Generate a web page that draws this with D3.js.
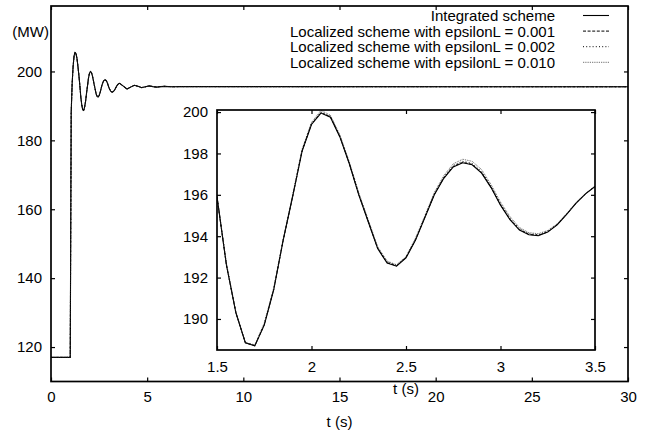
<!DOCTYPE html>
<html>
<head>
<meta charset="utf-8">
<script src="https://cdn.jsdelivr.net/npm/d3@7"></script>
<style>
  body { margin: 0; background: #fff; }
  text { font-family: "Liberation Sans", Arial, Helvetica, sans-serif; font-size: 15px; fill: #000; }
</style>
</head>
<body>
<div id="output"></div>
<script>
// time samples (s)
var tEarly = [0, 1.0, 1.05, 1.1, 1.15, 1.2, 1.25, 1.3, 1.35, 1.4, 1.45];
var tWin = [1.5, 1.55, 1.6, 1.65, 1.7, 1.75, 1.8, 1.85, 1.9, 1.95, 2.0, 2.05, 2.1, 2.15, 2.2, 2.25, 2.3, 2.35, 2.4, 2.45,
  2.5, 2.55, 2.6, 2.65, 2.7, 2.75, 2.8, 2.85, 2.9, 2.95, 3.0, 3.05, 3.1, 3.15, 3.2, 3.25, 3.3, 3.35, 3.4, 3.45, 3.5];
var tLate = [3.57, 3.76, 3.95, 4.14, 4.33, 4.52, 4.72, 4.91, 5.1, 5.3, 5.5, 5.7, 5.9, 6.3, 6.7, 30];

// power (MW)
var vEarly = [117, 117, 188, 196.5, 201.5, 204.5, 205.5, 205.2, 203.8, 201.5, 198.9];
var vLate = [196.55, 195.75, 194.9, 195.45, 196.0, 195.7, 195.3, 195.55, 195.8, 195.6, 195.45, 195.6, 195.68, 195.55, 195.6, 195.55];

var integratedWin = [195.9, 192.6, 190.3, 188.85, 188.7, 189.7, 191.4, 193.8, 195.9, 198.1, 199.4, 199.95, 199.75, 198.8, 197.5, 196.0, 194.7, 193.4, 192.7, 192.55,
  192.95, 193.8, 194.9, 196.0, 196.8, 197.35, 197.55, 197.45, 197.05, 196.35, 195.5, 194.8, 194.3, 194.07, 194.02, 194.2, 194.55, 195.05, 195.6, 196.05, 196.4];
var eps001Win = [195.9, 192.6, 190.3, 188.85, 188.7, 189.72, 191.42, 193.8, 195.92, 198.12, 199.42, 199.97, 199.77, 198.82, 197.52, 196.02, 194.72, 193.42, 192.72, 192.57,
  192.97, 193.82, 194.92, 196.02, 196.82, 197.37, 197.57, 197.47, 197.07, 196.37, 195.52, 194.82, 194.32, 194.09, 194.04, 194.21, 194.56, 195.06, 195.6, 196.05, 196.4];
var eps002Win = [195.92, 192.62, 190.32, 188.86, 188.72, 189.74, 191.44, 193.82, 195.94, 198.14, 199.45, 200.0, 199.8, 198.85, 197.55, 196.05, 194.75, 193.45, 192.75, 192.59,
  192.99, 193.85, 194.95, 196.05, 196.86, 197.42, 197.62, 197.52, 197.12, 196.42, 195.57, 194.87, 194.36, 194.12, 194.07, 194.24, 194.58, 195.08, 195.62, 196.06, 196.41];
var eps010Win = [195.95, 192.7, 190.35, 188.85, 188.75, 189.8, 191.5, 193.85, 196.0, 198.2, 199.5, 200.08, 199.85, 198.9, 197.6, 196.1, 194.8, 193.5, 192.8, 192.62,
  193.02, 193.9, 195.0, 196.12, 196.93, 197.5, 197.72, 197.62, 197.22, 196.5, 195.65, 194.95, 194.42, 194.17, 194.12, 194.28, 194.6, 195.1, 195.63, 196.07, 196.42];

var seriesNames = ['Integrated scheme', 'Localized scheme with epsilonL = 0.001',
  'Localized scheme with epsilonL = 0.002', 'Localized scheme with epsilonL = 0.010'];
var seriesWin = [integratedWin, eps001Win, eps002Win, eps010Win];
var seriesDash = [null, '3,1.6', '1,2.2', '0.8,1'];
var seriesWidth = [1.1, 1, 1, 0.8];

var mainXTicks = [0, 5, 10, 15, 20, 25, 30];
var mainYTicks = [120, 140, 160, 180, 200];
var insetXTicks = [1.5, 2, 2.5, 3, 3.5];
var insetYTicks = [190, 192, 194, 196, 198, 200];

var svg = d3.select('#output').append('svg')
  .attr('width', 654)
  .attr('height', 434);

svg.append('rect').attr('width', 654).attr('height', 434).attr('fill', '#fff');

// main scales
var x = d3.scaleLinear().domain([0, 30]).range([51, 628]);
var y = d3.scaleLinear().domain([110, 219]).range([381.5, 6]);

// inset scales
var xi = d3.scaleLinear().domain([1.5, 3.5]).range([217, 595]);
var yi = d3.scaleLinear().domain([188.5, 200.1]).range([350, 110]);

function build(ts, vs) {
  return ts.map(function (t, i) { return [t, vs[i]]; });
}

var tAll = tEarly.concat(tWin, tLate);

var lineMain = d3.line().x(function (d) { return x(d[0]); }).y(function (d) { return y(d[1]); });
var lineInset = d3.line().x(function (d) { return xi(d[0]); }).y(function (d) { return yi(d[1]); });

function styleLine(sel, i) {
  sel.attr('fill', 'none')
    .attr('stroke', i === 3 ? '#222' : '#000')
    .attr('stroke-width', seriesWidth[i])
    .attr('stroke-dasharray', seriesDash[i]);
}

// Draw the main curves
seriesWin.forEach(function (win, i) {
  var data = build(tAll, vEarly.concat(win, vLate));
  svg.append('path').datum(data).attr('d', lineMain).call(styleLine, i);
});

// main axes
function ticksOnly(g) {
  g.select('.domain').remove();
  g.selectAll('.tick line').attr('stroke', '#000').attr('stroke-width', 1.2);
  g.selectAll('text').style('font-size', '15px').style('font-family', '"Liberation Sans", Arial, sans-serif');
}

svg.append('g').attr('transform', 'translate(0,381.5)')
  .call(d3.axisBottom(x).tickValues(mainXTicks).tickSize(-4).tickPadding(10.3).tickFormat(d3.format('d')))
  .call(ticksOnly);
svg.append('g').attr('transform', 'translate(0,6)')
  .call(d3.axisTop(x).tickValues(mainXTicks).tickSize(-4).tickFormat(''))
  .call(ticksOnly);
svg.append('g').attr('transform', 'translate(51,0)')
  .call(d3.axisLeft(y).tickValues(mainYTicks).tickSize(-4).tickPadding(9).tickFormat(d3.format('d')))
  .call(ticksOnly);
svg.append('g').attr('transform', 'translate(628,0)')
  .call(d3.axisRight(y).tickValues(mainYTicks).tickSize(-4).tickFormat(''))
  .call(ticksOnly);

svg.append('rect')
  .attr('x', 51).attr('y', 6).attr('width', 628 - 51).attr('height', 381.5 - 6)
  .attr('fill', 'none').attr('stroke', '#000').attr('stroke-width', 1.7);

svg.append('text').attr('x', 49).attr('y', 37).attr('text-anchor', 'end').text('(MW)');
svg.append('text').attr('x', 339.5).attr('y', 427).attr('text-anchor', 'middle').text('t (s)');

// Draw the inset
svg.append('rect')
  .attr('x', 217).attr('y', 110).attr('width', 595 - 217).attr('height', 350 - 110)
  .attr('fill', '#fff');

var clip = svg.append('clipPath').attr('id', 'insetClip');
clip.append('rect').attr('x', 217).attr('y', 110).attr('width', 595 - 217).attr('height', 350 - 110);

seriesWin.forEach(function (win, i) {
  svg.append('path').datum(build(tWin, win))
    .attr('clip-path', 'url(#insetClip)')
    .attr('d', lineInset).call(styleLine, i);
});

svg.append('g').attr('transform', 'translate(0,350)')
  .call(d3.axisBottom(xi).tickValues(insetXTicks).tickSize(-4).tickPadding(11.4).tickFormat(d3.format('')))
  .call(ticksOnly);
svg.append('g').attr('transform', 'translate(0,110)')
  .call(d3.axisTop(xi).tickValues(insetXTicks).tickSize(-4).tickFormat(''))
  .call(ticksOnly);
svg.append('g').attr('transform', 'translate(217,0)')
  .call(d3.axisLeft(yi).tickValues(insetYTicks).tickSize(-4).tickPadding(9).tickFormat(d3.format('d')))
  .call(ticksOnly);
svg.append('g').attr('transform', 'translate(595,0)')
  .call(d3.axisRight(yi).tickValues(insetYTicks).tickSize(-4).tickFormat(''))
  .call(ticksOnly);

svg.append('rect')
  .attr('x', 217).attr('y', 110).attr('width', 595 - 217).attr('height', 350 - 110)
  .attr('fill', 'none').attr('stroke', '#000').attr('stroke-width', 1.7);

svg.append('text').attr('x', 406).attr('y', 393.5).attr('text-anchor', 'middle').text('t (s)');

// Draw the legend
seriesNames.forEach(function (name, i) {
  var ly = 15.5 + i * 15.6;
  svg.append('text').attr('x', 555).attr('y', ly + 5.4).attr('text-anchor', 'end').text(name);
  svg.append('line')
    .attr('x1', 583).attr('x2', 609).attr('y1', ly).attr('y2', ly)
    .call(styleLine, i);
});
</script>
</body>
</html>
